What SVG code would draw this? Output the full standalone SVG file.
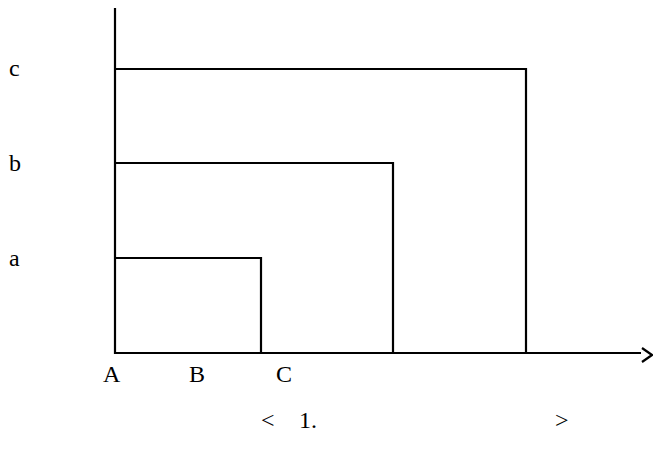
<svg xmlns="http://www.w3.org/2000/svg" width="653" height="465" viewBox="0 0 653 465">
<style>
.ln{stroke:#000;stroke-width:2.2;fill:none}
.t{font-family:"Liberation Serif","Times New Roman",serif;font-size:24px;fill:#000}
</style>
<rect width="653" height="465" fill="#fff"/>
<g id="connectors">
<line class="ln" x1="115" y1="8" x2="115" y2="354"/>
<line class="ln" x1="114" y1="353" x2="641" y2="353"/>
<polyline class="ln" stroke-width="1.5" points="642,348 652,355 642,362"/>
</g>
<g id="rect-c"><polyline class="ln" points="115,69 526,69 526,353"/></g>
<g id="rect-b"><polyline class="ln" points="115,163 393,163 393,353"/></g>
<g id="rect-a"><polyline class="ln" points="115,258 261,258 261,353"/></g>
<g id="labels">
<text class="t" x="9" y="76">c</text>
<text class="t" x="9" y="171">b</text>
<text class="t" x="9" y="266">a</text>
<text class="t" x="103" y="382">A</text>
<text class="t" x="189" y="382">B</text>
<text class="t" x="276" y="382">C</text>
<text class="t" x="261" y="428">&lt;</text>
<text class="t" x="299" y="428">1.</text>
<text class="t" x="555" y="428">&gt;</text>
</g>
</svg>
